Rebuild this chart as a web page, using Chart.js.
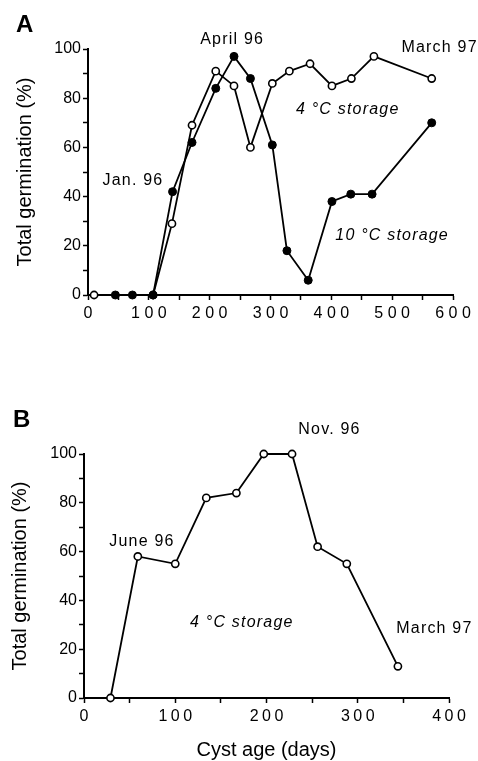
<!DOCTYPE html>
<html><head><meta charset="utf-8">
<script src="https://cdn.jsdelivr.net/npm/chart.js@4"></script>
<style>
html,body{margin:0;padding:0;background:#fff;width:478px;height:761px;overflow:hidden}
canvas{position:absolute;left:0;display:block}
#ca{top:0}
#cb{top:380px}
</style></head><body>
<canvas id="ca" width="478" height="345"></canvas>
<canvas id="cb" width="478" height="381"></canvas>
<script>
// ---- Panel A: 10 °C storage (filled circles) ----
const daysA10 = [45, 73, 107, 139, 171, 210, 240, 267, 303, 327, 362, 401, 432, 467, 565];
const germA10 = [0, 0, 0, 42, 62, 84, 97, 88, 61, 18, 6, 38, 41, 41, 70];
// ---- Panel A: 4 °C storage (open circles) ----
const daysA4 = [10, 107, 138, 171, 210, 240, 267, 303, 331, 365, 401, 433, 470, 565];
const germA4 = [0, 0, 29, 69, 91, 85, 60, 86, 91, 94, 85, 88, 97, 88];
// ---- Panel B: 4 °C storage (open circles) ----
const daysB4 = [29, 59, 100, 134, 167, 197, 228, 256, 288, 344];
const germB4 = [0, 58, 55, 82, 84, 100, 100, 62, 55, 13];

// axis ranges / ticks
const xMaxA = 600, xMaxB = 400, yMax = 100;
const xMajor = 100, xMinor = 50, yMajor = 20, yMinor = 10;

// text notes (anchored in data units: days, %)
const notesA = [
  {text: 'April 96', x: 237, y: 104, italic: false},
  {text: 'March 97', x: 578, y: 100.5, italic: false},
  {text: 'Jan. 96', x: 74, y: 46.6, italic: false},
  {text: '4 °C storage', x: 427, y: 75.5, italic: true},
  {text: '10 °C storage', x: 500, y: 24, italic: true}
];
const notesB = [
  {text: 'Nov. 96', x: 269, y: 110, italic: false},
  {text: 'June 96', x: 63.5, y: 64, italic: false},
  {text: '4 °C storage', x: 173, y: 31, italic: true},
  {text: 'March 97', x: 384, y: 28.3, italic: false}
];

const FAM = '"Liberation Sans", Arial, Helvetica, sans-serif';

function toXY(xs, ys){ return xs.map((x, i) => ({x: x, y: ys[i]})); }

function notesPlugin(letter, lx, ly, notes, xSpacing){
  return {
    id: 'notes' + letter,
    afterDatasetsDraw(chart){
      const ctx = chart.ctx, sx = chart.scales.x, sy = chart.scales.y;
      ctx.save();
      ctx.fillStyle = '#000';
      ctx.textAlign = 'center';
      ctx.textBaseline = 'middle';
      ctx.letterSpacing = '1.2px';
      for (const n of notes){
        ctx.font = (n.italic ? 'italic ' : '') + '16px ' + FAM;
        ctx.fillText(n.text, sx.getPixelForValue(n.x), sy.getPixelForValue(n.y));
      }
      ctx.letterSpacing = '0px';
      ctx.font = 'bold 24px ' + FAM;
      ctx.textAlign = 'left';
      ctx.textBaseline = 'alphabetic';
      ctx.fillText(letter, lx, ly);
      ctx.restore();
      ctx.letterSpacing = xSpacing + 'px';   // x tick labels are drawn after this (z:1)
    },
    afterDraw(chart){ chart.ctx.letterSpacing = '0px'; }
  };
}

function makeScales(xMax, yW, xH, yTitlePad, xTitle, xSpacing){
  const gridOpts = {display: true, drawOnChartArea: false, drawTicks: true, tickLength: 5, tickColor: '#000', tickWidth: 1.5};
  return {
    x: {
      type: 'linear', min: 0, max: xMax,
      ticks: {stepSize: xMinor, autoSkip: false, maxRotation: 0, padding: 4, color: '#000', z: 1,
              labelOffset: xSpacing / 2,
              font: {size: 16, family: FAM},
              callback: v => (v % xMajor === 0 ? String(v) : '')},
      grid: gridOpts,
      border: {display: true, color: '#000', width: 2},
      title: xTitle ? {display: true, text: xTitle, color: '#000', padding: 0,
                       font: {size: 20, family: FAM, lineHeight: 1.0}} : {display: false},
      afterFit(s){ s.height = xH; }
    },
    y: {
      type: 'linear', min: 0, max: yMax,
      ticks: {stepSize: yMinor, autoSkip: false, padding: 2, color: '#000',
              font: {size: 16, family: FAM},
              callback: v => (v % yMajor === 0 ? String(v) : '')},
      grid: gridOpts,
      border: {display: true, color: '#000', width: 2},
      title: {display: true, text: 'Total germination (%)', color: '#000',
              padding: {top: yTitlePad, bottom: 0}, font: {size: 20, family: FAM}},
      afterFit(s){ s.width = yW; }
    }
  };
}

const filledDs = (data) => ({
  data: data, borderColor: '#000', borderWidth: 1.8, backgroundColor: '#000',
  pointRadius: 4, pointBackgroundColor: '#000', pointBorderColor: '#000', pointBorderWidth: 1,
  fill: false, tension: 0, clip: false
});
const openDs = (data) => ({
  data: data, borderColor: '#000', borderWidth: 1.8, backgroundColor: '#fff',
  pointRadius: 3.6, pointBackgroundColor: '#fff', pointBorderColor: '#000', pointBorderWidth: 1.6,
  fill: false, tension: 0, clip: false
});

const common = {
  responsive: false, animation: false, events: [],
  plugins: {legend: {display: false}, tooltip: {enabled: false}}
};

new Chart(document.getElementById('ca'), {
  type: 'line',
  data: {datasets: [
    Object.assign({label: '10 °C storage'}, filledDs(toXY(daysA10, germA10))),
    Object.assign({label: '4 °C storage'}, openDs(toXY(daysA4, germA4)))
  ]},
  options: Object.assign({}, common, {
    layout: {padding: {left: 0, right: 25, top: 49, bottom: 10}},
    scales: makeScales(xMaxA, 88, 40, 13, null, 4.5)
  }),
  plugins: [notesPlugin('A', 16, 32, notesA, 4.5)]
});

new Chart(document.getElementById('cb'), {
  type: 'line',
  data: {datasets: [
    Object.assign({label: '4 °C storage'}, openDs(toXY(daysB4, germB4)))
  ]},
  options: Object.assign({}, common, {
    layout: {padding: {left: 0, right: 29, top: 74, bottom: 1}},
    scales: makeScales(xMaxB, 84, 62, 8, 'Cyst age (days)', 3.5)
  }),
  plugins: [notesPlugin('B', 13, 47, notesB, 3.5)]
});
</script>
</body></html>
